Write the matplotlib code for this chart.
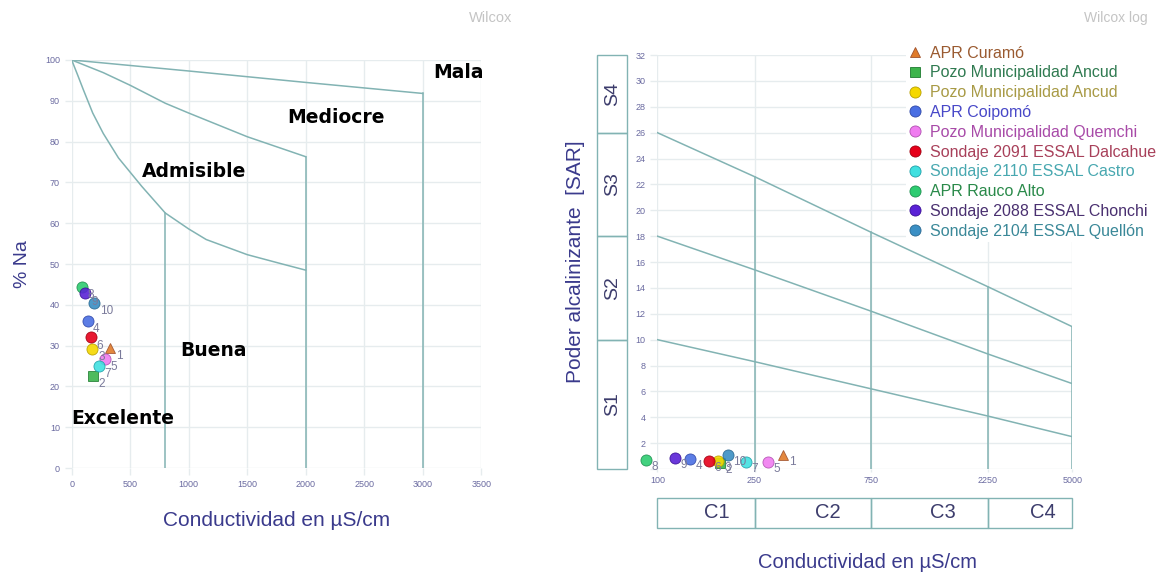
import matplotlib.pyplot as plt
from matplotlib.lines import Line2D
from matplotlib.patches import Rectangle
import matplotlib.transforms as mtransforms

plt.rcParams.update({
    "font.family": ["Liberation Sans", "DejaVu Sans"],
})

## parameters
fs_lab = 15
fs_tick = 6.5
fs_num = 8.5
fs_zone = 13.5

col_lab = "#3a3a8c"
col_tick = "#6a6aa0"
col_grid = "#e6ecee"
col_line = "#82b3b3"
col_title = "#c4c4c4"

##--------------- data ---------------##

samples = ["APR Curamó", "Pozo Municipalidad Ancud", "Pozo Municipalidad Ancud",
           "APR Coipomó", "Pozo Municipalidad Quemchi", "Sondaje 2091 ESSAL Dalcahue",
           "Sondaje 2110 ESSAL Castro", "APR Rauco Alto", "Sondaje 2088 ESSAL Chonchi",
           "Sondaje 2104 ESSAL Quellón"]
ids = ["1", "2", "3", "4", "5", "6", "7", "8", "9", "10"]

cond = [328, 180, 178, 136, 283, 162, 231, 90, 118, 194]        # uS/cm
na_pct = [29.5, 22.6, 29.2, 36.0, 26.8, 32.0, 25.0, 44.4, 42.8, 40.5]
sar = [1.1, 0.45, 0.62, 0.78, 0.57, 0.65, 0.57, 0.7, 0.83, 1.08]

markers = ["^", "s", "o", "o", "o", "o", "o", "o", "o", "o"]
mk_colors = ["#e07b2a", "#3cb44b", "#f5d800", "#4a6fe3", "#f07cf0",
             "#e6001a", "#40e0e0", "#2ecc71", "#5a22d6", "#3b8fc4"]
mk_edges = ["#a0522d", "#1e7a30", "#b8a000", "#3048a8", "#b050b0",
            "#a00010", "#20a0a8", "#1e9050", "#3a1096", "#2a6890"]
txt_colors = ["#9a5a30", "#2f7a50", "#a89a45", "#4848c8", "#a84aa8",
              "#a8405a", "#48a8b0", "#2a8a4a", "#4a3070", "#3a8898"]

# Wilcox (% Na vs conductivity) boundaries
top_x = [0, 1000, 2000, 3000]
top_y = [100, 97.3, 94.5, 91.8]
mid_x = [0, 270, 500, 800, 1000, 1500, 2000]
mid_y = [100, 96.9, 93.8, 89.4, 87.0, 81.2, 76.3]
low_x = [0, 50, 100, 180, 270, 400, 600, 800, 1000, 1150, 1500, 1800, 2000]
low_y = [100, 96.4, 92.7, 87.0, 82.0, 76.0, 69.0, 62.5, 58.6, 56.0, 52.3, 50.0, 48.5]
vert_x = [800, 2000, 3000]
vert_top = [62.5, 76.3, 91.8]

zones = ["Mala", "Mediocre", "Admisible", "Buena", "Excelente"]
zone_x = [3310, 2260, 1050, 1210, 440]
zone_y = [97, 86, 72.7, 28.8, 12.2]

# Riverside (SAR vs conductivity) boundaries
c_ticks = [100, 250, 750, 2250, 5000]
s12 = [10, 8.3, 6.2, 4.1, 2.5]
s23 = [18, 15.4, 12.2, 8.9, 6.6]
s34 = [26, 22.6, 18.3, 14.1, 11.0]

s_bounds = [0, 10, 18, 26, 32]
s_names = ["S1", "S2", "S3", "S4"]
c_names = ["C1", "C2", "C3", "C4"]
c_lab_x = [176, 500, 1480, 3800]


fig = plt.figure(figsize=(11.69, 5.75), dpi=100)

##--------------- Wilcox ---------------##
ax1 = fig.add_axes([0.0613, 0.186, 0.3503, 0.7097])
for s in ax1.spines.values():
    s.set_visible(False)
ax1.set_xlim(0, 3500)
ax1.set_ylim(0, 100)
ax1.set_xticks(range(0, 3501, 500))
ax1.set_yticks(range(0, 101, 10))
ax1.tick_params(labelsize=fs_tick, labelcolor=col_tick, color=col_grid, length=5, width=1)
ax1.grid(color=col_grid, lw=1)
ax1.set_axisbelow(True)

ax1.plot(top_x, top_y, color=col_line, lw=1.1)
ax1.plot(mid_x, mid_y, color=col_line, lw=1.1)
ax1.plot(low_x, low_y, color=col_line, lw=1.1)
for x, yt in zip(vert_x, vert_top):
    ax1.plot([x, x], [0, yt], color=col_line, lw=1.1)

for name, x, y in zip(zones, zone_x, zone_y):
    ax1.text(x, y, name, ha="center", va="center", fontsize=fs_zone,
             fontweight="bold", family="DejaVu Sans", color="black")

for i in range(len(samples)):
    ax1.plot(cond[i], na_pct[i], markers[i], color=mk_colors[i], mec=mk_edges[i],
             mew=0.6, ms=8 if markers[i] == "o" else 7, alpha=0.9, zorder=5)
    ax1.annotate(ids[i], (cond[i], na_pct[i]), xytext=(4, -6), textcoords="offset points",
                 fontsize=fs_num, color="#7a7a9a", ha="left", va="center", zorder=6)

ax1.set_xlabel("Conductividad en µS/cm", fontsize=fs_lab, color=col_lab, labelpad=16)
ax1.set_ylabel("% Na", fontsize=fs_lab - 1, color=col_lab, labelpad=10)
fig.text(0.438, 0.968, "Wilcox", ha="right", va="center", fontsize=10.5, color=col_title)

##--------------- Wilcox log ---------------##
ax2 = fig.add_axes([0.5623, 0.1843, 0.355, 0.72])
for s in ax2.spines.values():
    s.set_visible(False)
ax2.set_xscale("log")
ax2.set_xlim(100, 5000)
ax2.set_ylim(0, 32)
ax2.set_xticks(c_ticks)
ax2.set_xticklabels([str(c) for c in c_ticks])
ax2.minorticks_off()
ax2.set_yticks(range(0, 33, 2))
ax2.set_yticklabels([""] + [str(v) for v in range(2, 33, 2)])
ax2.tick_params(labelsize=fs_tick, labelcolor=col_tick, color=col_grid, length=5, width=1)
ax2.tick_params(axis="x", length=2, pad=3)
ax2.grid(color=col_grid, lw=1)
ax2.set_axisbelow(True)

ax2.plot(c_ticks, s12, color=col_line, lw=1.1)
ax2.plot(c_ticks, s23, color=col_line, lw=1.1)
ax2.plot(c_ticks, s34, color=col_line, lw=1.1)
for x, yt in zip(c_ticks[1:], s34[1:]):
    ax2.plot([x, x], [0, yt], color=col_line, lw=1.1)

# salinity class boxes on the left
trans_s = mtransforms.blended_transform_factory(ax2.transAxes, ax2.transData)
for k in range(4):
    y0, y1 = s_bounds[k], s_bounds[k + 1]
    ax2.add_patch(Rectangle((-0.1446, y0), 0.0723, y1 - y0, transform=trans_s,
                            fill=False, ec=col_line, lw=1, clip_on=False))
    ax2.text(-0.1085, (y0 + y1) / 2, s_names[k], transform=trans_s, rotation=90,
             ha="center", va="center", fontsize=14, color="#3c3c6c")

# conductivity class boxes below
trans_c = mtransforms.blended_transform_factory(ax2.transData, ax2.transAxes)
for k in range(4):
    x0, x1 = c_ticks[k], c_ticks[k + 1]
    ax2.add_patch(Rectangle((x0, -0.1418), x1 - x0, 0.0725, transform=trans_c,
                            fill=False, ec=col_line, lw=1, clip_on=False))
    ax2.text(c_lab_x[k], -0.1055, c_names[k], transform=trans_c,
             ha="center", va="center", fontsize=14.5, color="#3c3c6c")

for i in range(len(samples)):
    ax2.plot(cond[i], sar[i], markers[i], color=mk_colors[i], mec=mk_edges[i],
             mew=0.6, ms=8 if markers[i] == "o" else 7, alpha=0.9, zorder=5, clip_on=False)
    ax2.annotate(ids[i], (cond[i], sar[i]), xytext=(4, -5), textcoords="offset points",
                 fontsize=fs_num, color="#7a7a9a", ha="left", va="center", zorder=6,
                 annotation_clip=False)

fig.text(0.7425, 0.021, "Conductividad en µS/cm", ha="center", va="center",
         fontsize=fs_lab - 0.5, color=col_lab)
ax2.set_ylabel("Poder alcalinizante  [SAR]", fontsize=fs_lab, color=col_lab, labelpad=36)
fig.text(0.982, 0.968, "Wilcox log", ha="right", va="center", fontsize=10, color=col_title)

handles = [Line2D([], [], ls="none", marker=markers[i], color=mk_colors[i], mec=mk_edges[i],
                  mew=0.6, ms=8 if markers[i] == "o" else 6.5) for i in range(len(samples))]
leg = fig.legend(handles, samples, loc="upper left", bbox_to_anchor=(0.768, 0.94),
                 frameon=True, facecolor="white", edgecolor="none", framealpha=1,
                 fontsize=11.5, labelspacing=0.3, handlelength=0.8, handletextpad=0.5,
                 borderpad=0.2)
for t, c in zip(leg.get_texts(), txt_colors):
    t.set_color(c)

fig.savefig("out.png", dpi=100)
